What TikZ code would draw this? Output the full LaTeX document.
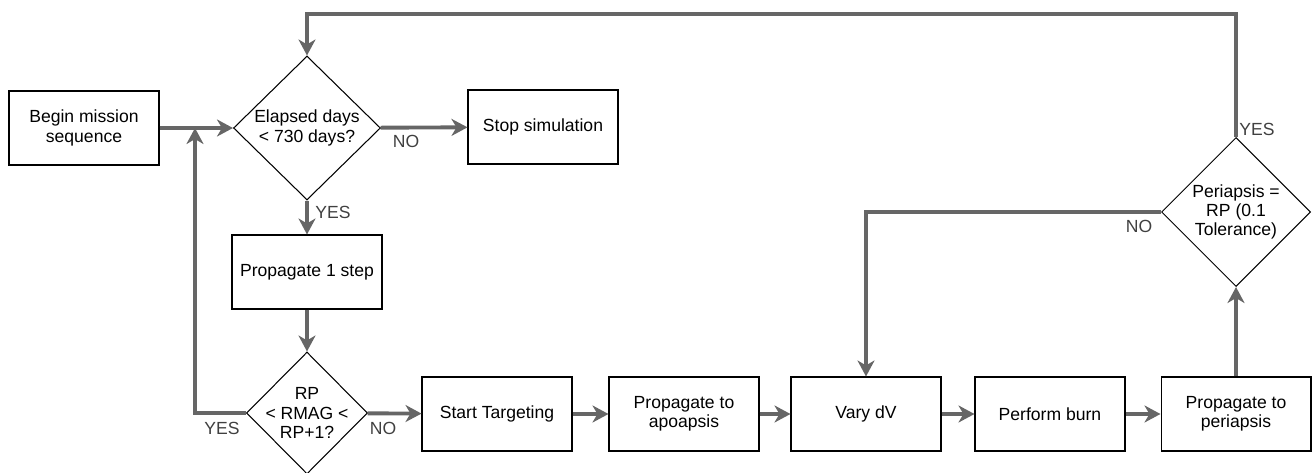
\documentclass[tikz,border=0pt]{standalone}
\usepackage{fontspec}
\setmainfont{Liberation Sans}
\usetikzlibrary{shapes.geometric,arrows.meta}
\definecolor{flowgray}{HTML}{666666}
\begin{document}
\begin{tikzpicture}[x=0.02cm,y=-0.02cm,
  font=\fontsize{10}{11}\selectfont,
  box/.style={draw,line width=0.6pt,minimum width=3cm,minimum height=1.48cm,align=center},
  ask/.style={draw,diamond,line width=0.6pt,inner sep=-6pt,align=center},
  flow/.style={draw=flowgray,line width=2.2pt,-{Stealth[length=3.2mm,width=3.4mm,inset=1mm]}},
  lbl/.style={text=black!75}]
 \useasboundingbox (0,0) rectangle (1312,473);
 \node[box] (begin) at (84,128) {Begin mission\\sequence};
 \node[ask,minimum width=2.94cm,minimum height=2.88cm] (days) at (307,128) {Elapsed days\\ < 730 days?};
 \node[box] (stop) at (543,127) {Stop simulation};
 \node[box] (prop) at (307,272) {Propagate 1 step};
 \node[ask,minimum width=2.42cm,minimum height=2.44cm] (rmag) at (307,413) {RP\\< RMAG <\\RP+1?};
 \node[box] (target) at (497,414) {Start Targeting};
 \node[box] (apo) at (684,414) {Propagate to\\apoapsis};
 \node[box] (vary) at (866,414) {Vary dV};
 \node[box] (burn) at (1050,414) {Perform burn};
 \node[box] (peri) at (1236,414) {Propagate to\\periapsis};
 \node[ask,minimum width=2.98cm,minimum height=2.98cm] (tol) at (1236,212) {Periapsis =\\RP (0.1\\Tolerance)};
 \coordinate (join) at (195,128);
 \coordinate (top) at (700,14);
 \draw[flow] (begin) -- (days);
 \draw[flow] (days) -- (stop);
 \draw[flow] (days) -- (prop);
 \draw[flow] (prop) -- (rmag);
 \draw[flow] (rmag.west) -| (join);
 \draw[flow] (rmag) -- (target);
 \draw[flow] (target) -- (apo);
 \draw[flow] (apo) -- (vary);
 \draw[flow] (vary) -- (burn);
 \draw[flow] (burn) -- (peri);
 \draw[flow] (peri) -- (tol);
 \draw[flow] (tol.west) -| (vary.north);
 \draw[flow] (tol.north) |- (top) -| (days.north);
 \node[lbl] (no1) at (406,141) {NO};
 \node[lbl] (yes1) at (333,212) {YES};
 \node[lbl] (yes2) at (222,428) {YES};
 \node[lbl] (no2) at (383,428) {NO};
 \node[lbl] (no3) at (1139,226) {NO};
 \node[lbl] (yes3) at (1257,129) {YES};
\end{tikzpicture}
\end{document}
